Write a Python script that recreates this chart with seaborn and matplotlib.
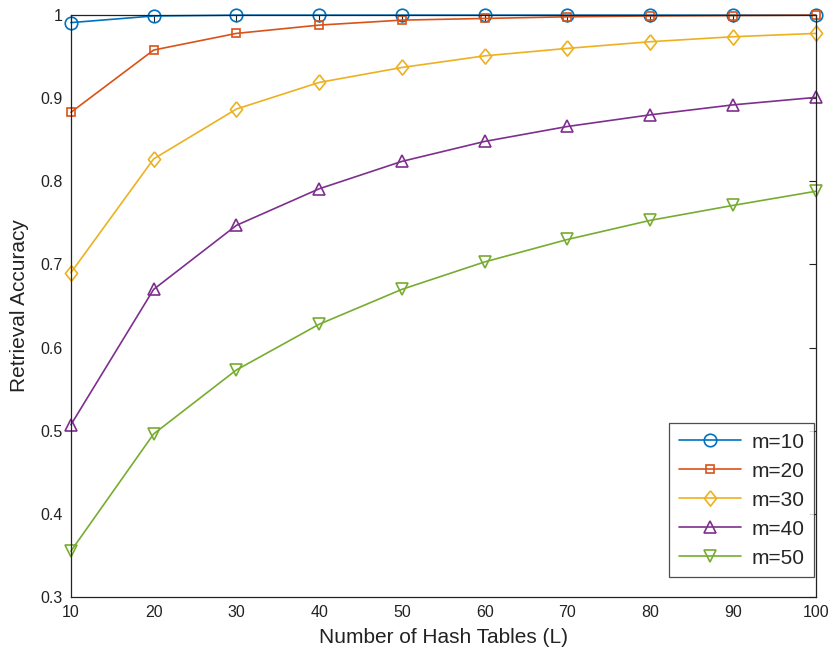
import numpy as np
import pandas as pd
import matplotlib
matplotlib.use("Agg")
import matplotlib.pyplot as plt
import seaborn as sns

# Number of hash tables
L_values = [10, 20, 30, 40, 50, 60, 70, 80, 90, 100]

# Retrieval accuracy for each code length m
acc_m10 = [0.991, 0.999, 1.000, 1.000, 1.000, 1.000, 1.000, 1.000, 1.000, 1.000]
acc_m20 = [0.883, 0.958, 0.978, 0.988, 0.994, 0.996, 0.998, 0.999, 0.9995, 1.000]
acc_m30 = [0.690, 0.827, 0.887, 0.919, 0.937, 0.951, 0.960, 0.968, 0.974, 0.978]
acc_m40 = [0.507, 0.670, 0.747, 0.791, 0.824, 0.848, 0.866, 0.880, 0.892, 0.901]
acc_m50 = [0.355, 0.496, 0.573, 0.628, 0.670, 0.703, 0.730, 0.753, 0.771, 0.788]

series_labels = ["m=10", "m=20", "m=30", "m=40", "m=50"]
series_values = [acc_m10, acc_m20, acc_m30, acc_m40, acc_m50]

y_ticks = [0.3, 0.4, 0.5, 0.6, 0.7, 0.8, 0.9, 1.0]
y_tick_labels = ["0.3", "0.4", "0.5", "0.6", "0.7", "0.8", "0.9", "1"]

records = []
for lab, vals in zip(series_labels, series_values):
    for L, a in zip(L_values, vals):
        records.append({"L": L, "acc": a, "m": lab})
df = pd.DataFrame(records)

sns.set_style("white")
plt.rcParams["font.family"] = ["Liberation Sans", "DejaVu Sans"]

palette = ["#0072BD", "#D95319", "#EDB120", "#7E2F8E", "#77AC30"]
# diamond slightly taller than wide
diamond = [(0, 1), (0.8, 0), (0, -1), (-0.8, 0), (0, 1)]
markers = ["o", "s", diamond, "^", "v"]
msizes = [9, 6, 11, 9, 9]

fig = plt.figure(figsize=(8.34, 6.58), dpi=100)
ax = fig.add_axes([0.085, 0.093, 0.893, 0.884])

sns.lineplot(data=df, x="L", y="acc", hue="m", style="m",
             hue_order=series_labels, style_order=series_labels,
             palette=palette, markers=markers, dashes=False,
             linewidth=1.2, legend=False, ax=ax)

for line, col, ms in zip(ax.lines, palette, msizes):
    line.set_markerfacecolor("none")
    line.set_markeredgecolor(col)
    line.set_markeredgewidth(1.2)
    line.set_markersize(ms)
    line.set_clip_on(False)

ax.set_xlim(10, 100)
ax.set_ylim(0.3, 1.0)
ax.set_xticks(L_values)
ax.set_xticklabels([str(v) for v in L_values], fontsize=11.5)
ax.set_yticks(y_ticks)
ax.set_yticklabels(y_tick_labels, fontsize=11.5)
ax.tick_params(direction="in", top=True, right=True, length=5, width=0.8,
               colors="#222222", pad=6)
for s in ax.spines.values():
    s.set_visible(True)
    s.set_color("#222222")
    s.set_linewidth(0.9)

ax.set_xlabel("Number of Hash Tables (L)", fontsize=15, color="#222222", labelpad=6)
ax.set_ylabel("Retrieval Accuracy", fontsize=15, color="#222222", labelpad=8)

leg = ax.legend(handles=ax.lines[:5], labels=series_labels, loc="lower right",
                bbox_to_anchor=(0.998, 0.034), borderaxespad=0,
                fontsize=15, handlelength=3.0, frameon=True, fancybox=False,
                labelspacing=0.48, handletextpad=0.5, borderpad=0.45)
leg.get_frame().set_edgecolor("#222222")
leg.get_frame().set_linewidth(0.9)

fig.savefig("out.png", dpi=100, facecolor="white")
